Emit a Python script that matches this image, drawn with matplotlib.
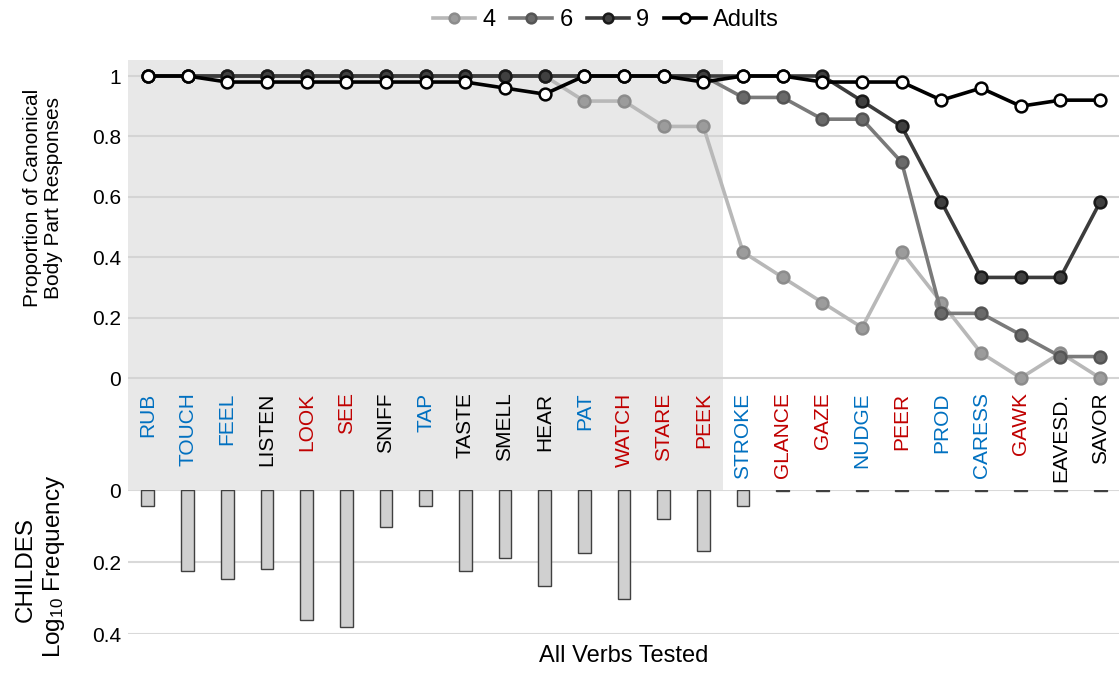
import matplotlib
matplotlib.use("Agg")
import matplotlib.pyplot as plt
from matplotlib.lines import Line2D

plt.rcParams['font.family'] = ['Liberation Sans', 'DejaVu Sans']
plt.rcParams['mathtext.fontset'] = 'custom'
plt.rcParams['mathtext.rm'] = 'Liberation Sans'
plt.rcParams['mathtext.it'] = 'Liberation Sans'

verbs = ["RUB", "TOUCH", "FEEL", "LISTEN", "LOOK", "SEE", "SNIFF", "TAP", "TASTE",
         "SMELL", "HEAR", "PAT", "WATCH", "STARE", "PEEK", "STROKE", "GLANCE", "GAZE",
         "NUDGE", "PEER", "PROD", "CARESS", "GAWK", "EAVESD.", "SAVOR"]
verb_type = ["t", "t", "t", "n", "v", "v", "n", "t", "n", "n", "n", "t", "v", "v", "v",
             "t", "v", "v", "t", "v", "t", "t", "v", "n", "n"]

age4 = [1, 1, 1, 1, 1, 1, 1, 1, 1, 1, 1, 0.917, 0.917, 0.833, 0.833,
        0.417, 0.333, 0.25, 0.167, 0.417, 0.25, 0.083, 0.0, 0.083, 0.0]
age6 = [1, 1, 1, 1, 1, 1, 1, 1, 1, 1, 1, 1, 1, 1, 1,
        0.929, 0.929, 0.857, 0.857, 0.714, 0.214, 0.214, 0.143, 0.071, 0.071]
age9 = [1, 1, 1, 1, 1, 1, 1, 1, 1, 1, 1, 1, 1, 1, 1,
        1, 1, 1, 0.917, 0.833, 0.583, 0.333, 0.333, 0.333, 0.583]
adults = [1, 1, 0.98, 0.98, 0.98, 0.98, 0.98, 0.98, 0.98, 0.96, 0.94, 1, 1, 1, 0.98,
          1, 1, 0.98, 0.98, 0.98, 0.92, 0.96, 0.90, 0.92, 0.92]
childes = [0.045, 0.224, 0.247, 0.219, 0.362, 0.381, 0.103, 0.045, 0.224, 0.188,
           0.268, 0.176, 0.303, 0.081, 0.169, 0.045, 0.003, 0.003, 0.003, 0.003,
           0.003, 0.003, 0.003, 0.003, 0.003]

series = [("4", age4, "#b8b8b8", "#9c9c9c", "#8c8c8c"),
          ("6", age6, "#7a7a7a", "#6a6a6a", "#555555"),
          ("9", age9, "#3c3c3c", "#404040", "#1a1a1a"),
          ("Adults", adults, "#000000", "#ffffff", "#000000")]
type_colors = {"t": "#0070C0", "v": "#C00000", "n": "#000000"}

W, H = 1119, 674
fig = plt.figure(figsize=(W / 100, H / 100), dpi=100)

x = list(range(len(verbs)))
left = 128 / W
width = 992 / W

# top axes
ax = fig.add_axes([left, 1 - 490 / H, width, (490 - 60) / H])
ylo = -112 / 302
yhi = 1 + 16 / 302
ax.set_ylim(ylo, yhi)
ax.set_xlim(-0.5, len(verbs) - 0.5)
ax.axvspan(-0.5, 14.5, color="#e8e8e8", zorder=0, lw=0)
for v in [0, 0.2, 0.4, 0.6, 0.8, 1.0]:
    ax.axhline(v, color="#d4d4d4", lw=1.5, zorder=1)
for name, vals, lc, fc, ec in series:
    ax.plot(x, vals, color=lc, lw=2.6, marker="o", markersize=8.5,
            markerfacecolor=fc, markeredgecolor=ec, markeredgewidth=1.8,
            zorder=3, label=name)
ax.set_yticks([0, 0.2, 0.4, 0.6, 0.8, 1.0])
ax.set_yticklabels(["0", "0.2", "0.4", "0.6", "0.8", "1"])
ax.tick_params(axis="y", length=0, labelsize=15, pad=5, colors="#000000")
ax.set_xticks([])
for s in ax.spines.values():
    s.set_visible(False)
ax.patch.set_visible(False)
for i, (vb, t) in enumerate(zip(verbs, verb_type)):
    ax.text(i, -0.048, vb, rotation=90, ha="center", va="top", fontsize=15,
            color=type_colors[t])
ax.set_ylabel("Proportion of Canonical\nBody Part Responses", fontsize=15,
              linespacing=1.1)
ax.yaxis.set_label_coords(-0.066, ((378 - 198) / 302 - ylo) / (yhi - ylo))

# bottom axes
bx = fig.add_axes([left, 1 - 634 / H, width, (634 - 490) / H])
bx.set_xlim(-0.5, len(verbs) - 0.5)
bx.set_ylim(0.4, 0)
for v in [0, 0.2, 0.4]:
    bx.axhline(v, color="#d9d9d9", lw=1.5, zorder=0)
bx.bar(x, childes, width=0.32, color="#d0d0d0", edgecolor="#404040", linewidth=1.0,
       zorder=2)
bx.set_yticks([0, 0.2, 0.4])
bx.set_yticklabels(["0", "0.2", "0.4"])
bx.tick_params(axis="y", length=0, labelsize=15, pad=5)
bx.set_xticks([])
for s in bx.spines.values():
    s.set_visible(False)
fig.text(32 / W, 1 - 569 / H, "CHILDES", rotation=90, rotation_mode="anchor",
         ha="center", va="baseline", fontsize=17.5)
fig.text(60 / W, 1 - 566 / H, "Log$_{10}$ Frequency", rotation=90,
         rotation_mode="anchor", ha="center", va="baseline", fontsize=17.5)
bx.set_xlabel("All Verbs Tested", fontsize=17, labelpad=8)

handles = [Line2D([0], [0], color=lc, lw=2.6, marker="o", markersize=7,
                  markerfacecolor=fc, markeredgecolor=ec, markeredgewidth=1.8)
           for _, _, lc, fc, ec in series]
fig.legend(handles, [s[0] for s in series], loc="center", bbox_to_anchor=(606 / W, 1 - 20 / H),
           ncol=4, frameon=False, fontsize=17, handlelength=1.8, handletextpad=0.3,
           columnspacing=0.6, borderpad=0)

fig.savefig("out.png", dpi=100)
